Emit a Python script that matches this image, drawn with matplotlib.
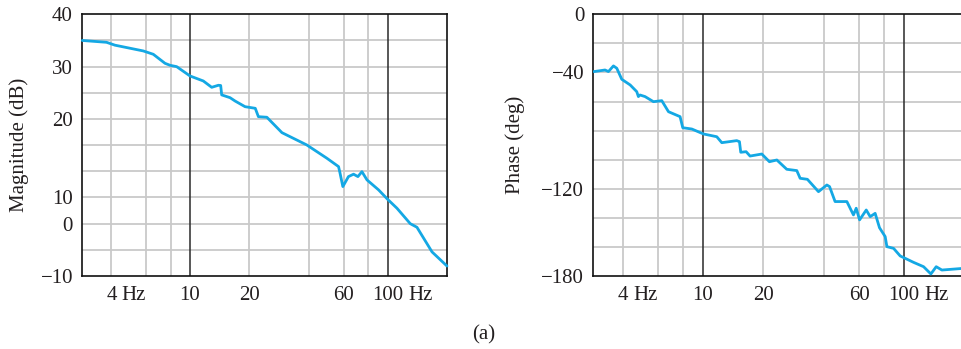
import matplotlib
matplotlib.use("Agg")
import matplotlib.pyplot as plt

# ---------------- data ----------------
mag_freq = [2.85, 3.78, 4.17, 5.8, 6.52, 7.47, 7.92, 8.56, 10.0, 11.68, 12.88, 13.92,
            14.3, 14.47, 15.95, 16.9, 19.0, 21.4, 22.2, 24.5, 29.2, 32.1, 39.0, 49.3,
            56.5, 57.5, 59.4, 63.4, 67.3, 70.8, 74.2, 78.7, 90.1, 100.0, 111.6, 130.3,
            140.9, 168.0, 200.0]
mag_db = [35.0, 34.65, 34.1, 33.0, 32.36, 30.64, 30.26, 30.0, 28.22, 27.26, 26.05, 26.44,
          26.4, 24.6, 24.07, 23.44, 22.35, 22.04, 20.44, 20.33, 17.39, 16.62, 15.04, 12.5,
          10.9, 9.63, 7.08, 8.99, 9.45, 8.99, 9.94, 8.36, 6.45, 4.67, 2.95, 0.0,
          -0.69, -5.4, -8.1]

phase_freq = [2.87, 3.08, 3.26, 3.39, 3.59, 3.73, 3.95, 4.35, 4.69, 4.78, 4.87, 5.16,
              5.68, 6.25, 6.75, 7.71, 7.95, 8.82, 10.08, 11.74, 12.44, 14.76, 15.23,
              15.46, 16.44, 17.2, 19.68, 21.48, 23.38, 26.2, 29.4, 30.55, 33.2, 37.7,
              41.5, 42.8, 45.6, 52.2, 56.3, 58.1, 60.4, 65.2, 68.2, 72.2, 75.9, 81.0,
              82.6, 89.2, 96.2, 112.1, 125.8, 136.8, 145.4, 155.2, 200.0]
phase_deg = [-39.4, -38.8, -38.3, -39.4, -35.5, -37.1, -44.7, -48.6, -53.2, -56.6, -55.5,
             -56.6, -60.1, -59.4, -67.0, -70.4, -78.0, -78.9, -82.3, -84.2, -88.3, -86.9,
             -87.6, -94.9, -94.5, -97.5, -96.1, -101.4, -100.2, -106.6, -107.5, -112.8,
             -113.5, -122.0, -117.4, -118.5, -128.8, -128.8, -138.0, -133.4, -141.4,
             -134.6, -139.2, -136.9, -146.8, -152.9, -159.8, -161.0, -166.2, -170.6,
             -173.6, -178.6, -173.6, -175.9, -174.7]

x_ticks = [4, 10, 20, 60, 100]
x_ticklabels = ["4", "10", "20", "60", "100"]
hz_ticks = [4, 100]
grid_light = [4, 6, 8, 20, 40, 60, 80]
grid_dark = [10, 100]

mag_ticks = [40, 35, 30, 25, 20, 15, 10, 5, 0, -5, -10]
mag_ticklabels = ["40", "", "30", "", "20", "", "", "10", "0", "", "\u221210"]

phase_ticks = [0, -20, -40, -60, -80, -100, -120, -140, -160, -180]
phase_ticklabels = ["0", "", "\u221240", "", "", "", "\u2212120", "", "", "\u2212180"]

# ---------------- style ----------------
FONT = "Liberation Serif"
FS = 15
TXT = "#231f20"
LINE = "#14a8e4"
GRID = "#c9c9c9"

plt.rcParams["font.family"] = [FONT, "DejaVu Serif"]
plt.rcParams["font.size"] = FS

fig = plt.figure(figsize=(9.62, 3.49), dpi=100)

W, H = 962.0, 349.0
ax1 = fig.add_axes([82 / W, 1 - 276 / H, (447.3 - 82) / W, (276 - 14.3) / H])
ax2 = fig.add_axes([593.3 / W, 1 - 276 / H, (964 - 593.3) / W, (276 - 14.3) / H])


def style(ax, xlim, yticks, yticklabels, ylim, ylabel, label_x):
    ax.set_xscale("log")
    ax.set_xlim(*xlim)
    ax.set_ylim(*ylim)
    for g in grid_light:
        ax.axvline(g, color=GRID, lw=1.3, zorder=1)
    for g in grid_dark:
        ax.axvline(g, color="#2a2a2a", lw=1.1, zorder=2)
    for v in yticks:
        if ylim[0] < v < ylim[1]:
            ax.axhline(v, color=GRID, lw=1.3, zorder=1)
    ax.set_xticks(x_ticks)
    ax.set_xticklabels(x_ticklabels)
    ax.xaxis.set_minor_locator(matplotlib.ticker.NullLocator())
    ax.set_yticks(yticks)
    ax.set_yticklabels(yticklabels)
    ax.tick_params(axis="x", length=0, pad=7.3, labelsize=FS, colors=TXT)
    ax.tick_params(axis="y", length=0, pad=6.5, labelsize=FS, colors=TXT)
    for s in ax.spines.values():
        s.set_color("#111111")
        s.set_linewidth(1.2)
    for t in hz_ticks:
        off = 7.5 if t < 10 else 15.0
        ax.annotate("Hz", xy=(t, 0), xycoords=("data", "axes fraction"),
                    xytext=(off, -7.3), textcoords="offset points",
                    ha="left", va="top", fontsize=FS, color=TXT,
                    annotation_clip=False)
    ax.set_ylabel(ylabel, fontsize=FS, color=TXT, va="center")
    ax.yaxis.set_label_coords(label_x, 0.5)


style(ax1, (2.84, 200.7), mag_ticks, mag_ticklabels, (-10, 40), "Magnitude (dB)",
      (19 - 82) / 365.3)
style(ax2, (2.85, 200.0), phase_ticks, phase_ticklabels, (-180, 0), "Phase (deg)",
      (515 - 593.3) / 370.7)

ax1.plot(mag_freq, mag_db, color=LINE, lw=2.0, zorder=3, solid_capstyle="round",
         solid_joinstyle="round", clip_on=False)
ax2.plot(phase_freq, phase_deg, color=LINE, lw=2.0, zorder=3, solid_capstyle="round",
         solid_joinstyle="round")

fig.text(484 / W, 1 - 335 / H, "(a)", ha="center", va="center", fontsize=FS, color=TXT)

fig.savefig("out.png", dpi=100)
